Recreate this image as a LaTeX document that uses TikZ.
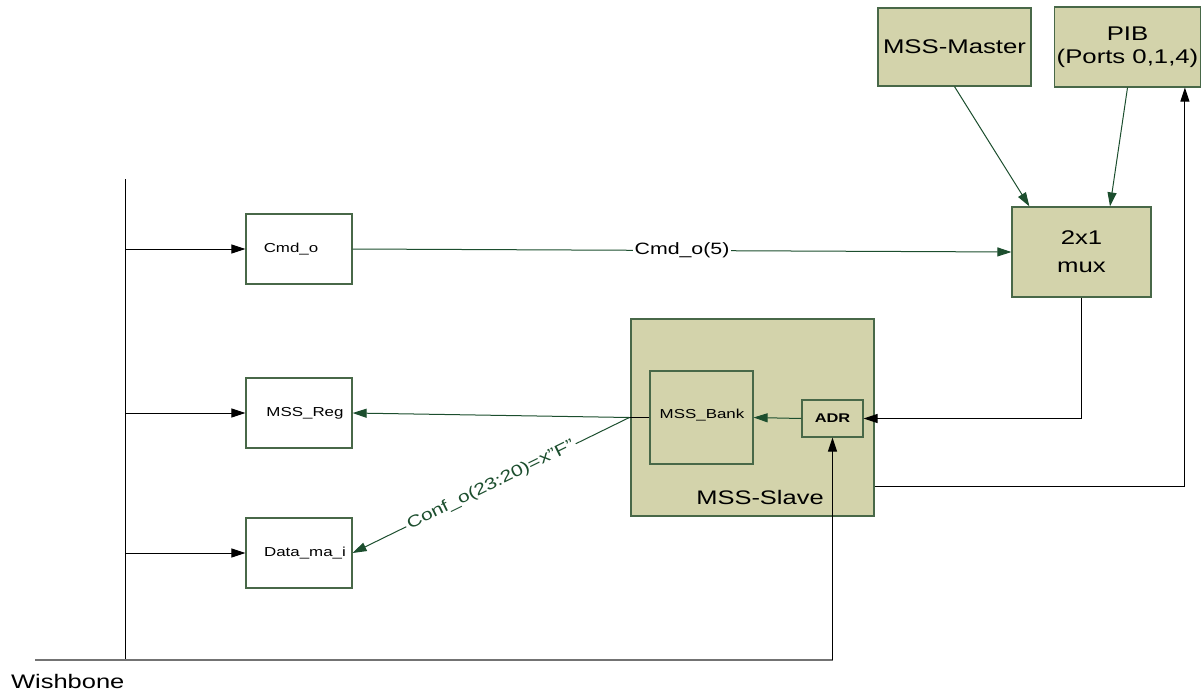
\documentclass[tikz,border=0pt]{standalone}
\usepackage{fontspec}
\setmainfont[FakeStretch=1.3]{Liberation Sans}
\usetikzlibrary{arrows.meta,calc}
\definecolor{khaki}{RGB}{211,211,171}
\definecolor{edge}{RGB}{72,104,72}
\definecolor{wire}{RGB}{28,78,46}
\tikzset{
  kbox/.style={draw=edge,fill=khaki,line width=0.6pt,inner sep=1pt,align=center,font=\fontsize{9.9}{11.5}\selectfont},
  wbox/.style={draw=edge,fill=white,line width=0.6pt,inner sep=1pt,align=center,font=\fontsize{6.5}{8}\selectfont,minimum width=53pt,minimum height=35pt},
  tip/.style={-{Triangle[length=7pt,width=4.5pt]}},
  barrow/.style={tip,draw=black,line width=0.5pt},
  garrow/.style={tip,draw=wire,line width=0.5pt},
  bus/.style={draw=black,line width=0.5pt},
  grayline/.style={draw=black!55,line width=0.8pt},
}
\begin{document}
\begin{tikzpicture}[x=0.5pt,y=-0.5pt]
\useasboundingbox (0,0) rectangle (1204,696);

% source blocks and multiplexer
\node[kbox,minimum width=76.5pt,minimum height=39pt] (master) at (954.5,47) {MSS-Master};
\node[kbox,minimum width=69.5pt,minimum height=40pt] (pib) at (1127.5,47) {PIB\\(Ports 0,1,4)};
\node[kbox,minimum width=69.5pt,minimum height=45pt,font=\fontsize{9.9}{14}\selectfont] (mux) at (1081.5,252) {2x1\\mux};

% slave block with bank and address register
\node[kbox,minimum width=121.5pt,minimum height=98.5pt] (slave) at (752.5,417.5) {};
\node[font=\fontsize{9.8}{11}\selectfont] (slavelbl) at (760,497) {MSS-Slave};
\node[kbox,minimum width=51.5pt,minimum height=46.5pt] (bank) at (701.5,417.5) {};
\node[font=\fontsize{6.5}{8}\selectfont] (banklbl) at (702,415) {MSS\_Bank};
\node[kbox,minimum width=30.5pt,minimum height=18.5pt,font=\fontsize{6.3}{8}\selectfont\bfseries] (adr) at (832.5,418.5) {ADR};

% registers on the bus side
\node[wbox] (cmd) at (299,249) {\hspace{-8pt}Cmd\_o};
\node[wbox] (reg) at (299,413) {\hspace{6pt}MSS\_Reg};
\node[wbox] (data) at (299,553) {\hspace{6pt}Data\_ma\_i};

% Wishbone bus
\coordinate (bt) at (125,179);
\coordinate (bb) at (125,660);
\coordinate (wl) at (35,660);
\draw[bus] (bt) -- (bb);
\node[anchor=west,font=\fontsize{9.8}{11}\selectfont] (wb) at (4,681) {Wishbone};
\draw[barrow] (cmd.west -| bt) -- (cmd.west);
\draw[barrow] (reg.west -| bt) -- (reg.west);
\draw[barrow] (data.west -| bt) -- (data.west);
\draw[grayline] (wl) -- (wl -| adr.south);
\draw[barrow] (wl -| adr.south) -- (adr.south);

% multiplexer inputs and output
\draw[garrow] (master.south) -- ($(mux.north west)+(18,0)$);
\draw[garrow] (pib.south) -- ($(mux.north)+(28.5,0)$);
\draw[garrow] (cmd.east) -- node[fill=white,inner sep=1pt,text=black,font=\fontsize{8.2}{10}\selectfont] (cmdlbl) {Cmd\_o(5)} (mux.west);
\draw[barrow] (mux.south) |- (adr.east);
\draw[barrow] ($(slave.south east)+(0,-30)$) -| ($(pib.south east)+(-16,0)$);

% slave outputs
\draw[garrow] (adr.west) -- (bank.east);
\coordinate (split) at ($(slave.west)+(-1,0)$);
\draw[line width=0.5pt] (bank.west) -- ($(split)+(-12,0)$);
\draw[garrow] (split) -- (reg.east);
\draw[garrow] (split) -- node[sloped,fill=white,inner sep=1pt,text=wire,font=\fontsize{8.1}{10}\selectfont] (conflbl) {Conf\_o(23:20)=x”F”} (data.east);
\end{tikzpicture}
\end{document}
